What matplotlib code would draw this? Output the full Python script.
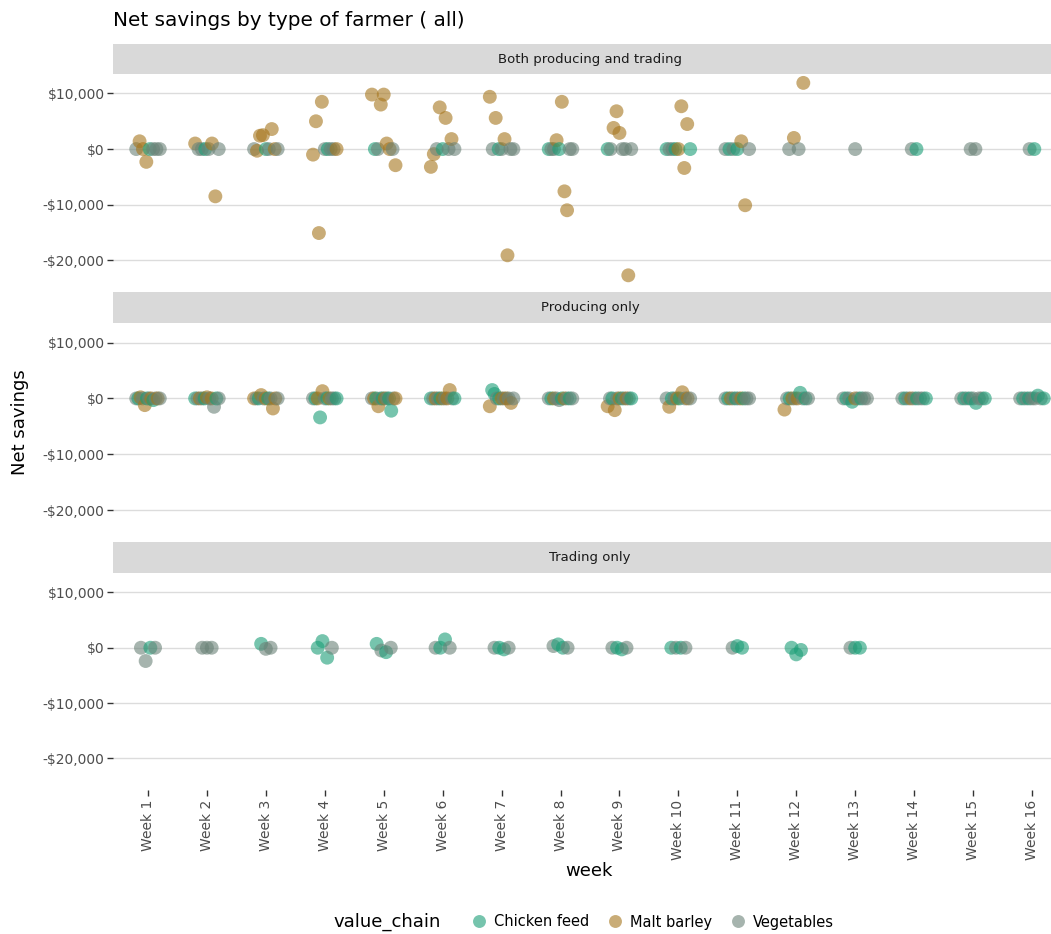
import matplotlib
matplotlib.use("Agg")
import matplotlib.pyplot as plt
from matplotlib.lines import Line2D
import numpy as np

# value chains: C = Chicken feed, M = Malt barley, V = Vegetables
chain_names = {"C": "Chicken feed", "M": "Malt barley", "V": "Vegetables"}
chain_colors = {"C": "#1b9e77", "M": "#a6761d", "V": "#6b8378"}

week_labels = ["Week %d" % i for i in range(1, 17)]
y_ticks = [10000, 0, -10000, -20000]

# Both producing and trading
both_week = ([1] * 8 + [2] * 8 + [3] * 9 + [4] * 9 + [5] * 9 + [6] * 9 + [7] * 9
             + [8] * 10 + [9] * 9 + [10] * 9 + [11] * 7 + [12] * 4 + [13] + [14] * 2
             + [15] * 2 + [16] * 2)
both_chain = ("VMMMCVVV" + "MVVCVMMV" + "VMMMCVMMV" + "MMMMVCVVM" + "MCVMMMMVM"
              + "MMVMCMVMV" + "MVMCVMMVV" + "CVVMCMMMVV" + "CVMMMVVMV" + "CVVCMMMMC"
              + "VCVCMMV" + "VMVM" + "V" + "VC" + "VV" + "VC")
both_value = [0, 1400, 0, -2300, 0, 0, 0, 0,
              1000, 0, 0, 0, 0, 1000, -8500, 0,
              0, -300, 2400, 2500, 0, 0, 3600, 0, 0,
              -1000, 5000, -15100, 8500, 0, 0, 0, 0, 0,
              9800, 0, 0, 8000, 9800, 1000, 0, 0, -2900,
              -3200, -900, 0, 7500, 0, 5600, 0, 1800, 0,
              9400, 0, 5600, 0, 0, 1800, -19100, 0, 0,
              0, 0, 0, 1600, 0, 8500, -7600, -11000, 0, 0,
              0, 0, 3800, 6800, 2900, 0, 0, -22700, 0,
              0, 0, 0, 0, 0, 7700, -3400, 4500, 0,
              0, 0, 0, 0, 1400, -10100, 0,
              0, 2000, 0, 11900,
              0,
              0, 0,
              0, 0,
              0, 0]

# Producing only
prod_week = ([1] * 12 + [2] * 11 + [3] * 11 + [4] * 11 + [5] * 12 + [6] * 11 + [7] * 11
             + [8] * 10 + [9] * 11 + [10] * 10 + [11] * 10 + [12] * 10 + [13] * 9
             + [14] * 9 + [15] * 9 + [16] * 9)
prod_chain = ("VCMVMCVMCVMV" + "CVMVCMVMVCV" + "MVCMVMCVMMV" + "VCMCMVCMVVC"
              + "VMCMVCMVCCVM" + "CVMVCMVMMVC" + "MCCVCMVMVMV" + "VCMVVCMVCV"
              + "MVCMVMCVMVC" + "VMCVMCMVMV" + "VCMVCVMCVV" + "MVCMVMCVCV"
              + "VCVCMVCVV" + "VCVMVCVVC" + "VCVCVCVVC" + "VCVCVVCVC")
prod_value = [0, 0, 200, 0, -1200, 0, 0, 0, -300, 0, 0, 0,
              0, 0, 0, 0, 0, 200, 0, 0, -1500, 0, 0,
              0, 0, 0, 600, 0, 0, 0, 0, -1800, 0, 0,
              0, 0, 0, -3400, 1300, 0, 0, 0, 0, 0, 0,
              0, 0, 0, -1400, 0, 0, 0, 0, 0, -2200, 0, 0,
              0, 0, 0, 0, 0, 0, 0, 0, 1500, 0, 0,
              -1400, 1500, 800, 0, 0, 0, 0, 0, 0, -800, 0,
              0, 0, 0, 0, -300, 0, 0, 0, 0, 0,
              -1400, 0, 0, -2100, 0, 0, 0, 0, 0, 0, 0,
              0, -1500, 0, 0, 0, 0, 1100, 0, 0, 0,
              0, 0, 0, 0, 0, 0, 0, 0, 0, 0,
              -2000, 0, 0, 0, 0, 0, 1000, 0, 0, 0,
              0, 0, 0, -600, 0, 0, 0, 0, 0,
              0, 0, 0, 0, 0, 0, 0, 0, 0,
              0, 0, 0, 0, 0, -800, 0, 0, 0,
              0, 0, 0, 0, 0, 0, 500, 0, 0]

# Trading only
trade_week = ([1] * 4 + [2] * 3 + [3] * 3 + [4] * 4 + [5] * 4 + [6] * 4 + [7] * 4
              + [8] * 4 + [9] * 4 + [10] * 4 + [11] * 3 + [12] * 3 + [13] * 3)
trade_chain = ("VVCV" + "VVV" + "CVV" + "CCCV" + "CVCV" + "VCCV" + "VCCV"
               + "VCCV" + "VCCV" + "CVCV" + "VCC" + "CCC" + "VCC")
trade_value = [0, -2400, 0, 0,
               0, 0, 0,
               700, -200, 0,
               0, 1200, -1800, 0,
               700, -500, -800, 0,
               0, 0, 1500, 0,
               0, 0, -300, 0,
               300, 600, 0, 0,
               0, 0, -300, 0,
               0, 0, 0, 0,
               0, 300, 0,
               0, -1200, -400,
               0, 0, 0]

panels = [("Both producing and trading", both_week, both_chain, both_value),
          ("Producing only", prod_week, prod_chain, prod_value),
          ("Trading only", trade_week, trade_chain, trade_value)]

W, H = 1051, 934
fig = plt.figure(figsize=(W / 100, H / 100), dpi=100)
plt.rcParams["font.family"] = ["DejaVu Sans"]


def box(top, bottom, left=113, right=W):
    return [left / W, 1 - bottom / H, (right - left) / W, (bottom - top) / H]


def spread(weeks):
    # spread the points of each week side by side, in listed order
    weeks = np.asarray(weeks, dtype=float)
    x = weeks.copy()
    for w in np.unique(weeks):
        idx = np.where(weeks == w)[0]
        n = len(idx)
        if n > 1:
            half = min(0.4, 0.08 * (n - 1)) / 2
            x[idx] = w + np.linspace(-half, half, n)
    return x


panel_px = [(74, 292), (323, 542), (573, 790)]
strip_px = [(44, 74), (292, 323), (542, 573)]

for i, (name, weeks, chains, values) in enumerate(panels):
    ax = fig.add_axes(box(*panel_px[i]))
    colors = [chain_colors[c] for c in chains]
    ax.scatter(spread(weeks), values, s=100, c=colors, alpha=0.6, linewidths=0, zorder=3)
    ax.set_xlim(0.406, 16.323)
    ax.set_ylim(-25700, 13500)
    ax.set_yticks(y_ticks)
    ax.set_yticklabels(["$10,000", "$0", "-$10,000", "-$20,000"])
    ax.grid(axis="y", color="#dcdcdc", linewidth=1.0)
    ax.set_axisbelow(True)
    for s in ax.spines.values():
        s.set_visible(False)
    ax.tick_params(axis="y", length=4, width=1, color="#333333", labelcolor="#4d4d4d",
                   labelsize=10, pad=2)
    ax.set_xticks(range(1, 17))
    if i == 2:
        ax.set_xticklabels(week_labels, rotation=90, va="top", ha="center")
        ax.tick_params(axis="x", length=4, width=1, color="#333333", labelcolor="#4d4d4d",
                       labelsize=10, pad=3)
    else:
        ax.tick_params(axis="x", length=0, labelbottom=False)

    sax = fig.add_axes(box(*strip_px[i]))
    sax.set_facecolor("#d9d9d9")
    sax.set_xticks([])
    sax.set_yticks([])
    for s in sax.spines.values():
        s.set_visible(False)
    sax.text(0.5 + 8 / (W - 113), 0.5, name, ha="center", va="center", fontsize=9.5,
             color="#1a1a1a", transform=sax.transAxes)

fig.text(113 / W, 1 - 20 / H, "Net savings by type of farmer ( all)", fontsize=14.4,
         ha="left", va="center", color="black")
fig.text(20 / W, 1 - 422 / H, "Net savings", rotation=90, fontsize=13,
         ha="center", va="center")
fig.text(589 / W, 1 - 871 / H, "week", fontsize=13, ha="center", va="center")

# legend along the bottom
fig.text(387 / W, 1 - 922 / H, "value_chain", fontsize=13, ha="center", va="center")
handles = [Line2D([], [], linestyle="none", marker="o", markersize=9.3,
                  markerfacecolor=chain_colors[k], markeredgewidth=0, alpha=0.6)
           for k in "CMV"]
fig.legend(handles, [chain_names[k] for k in "CMV"], ncol=3, loc="center",
           bbox_to_anchor=(652 / W, 1 - 922 / H), frameon=False, fontsize=10.5,
           handletextpad=0.4, columnspacing=1.2, handlelength=1.2)

fig.savefig("out.png", dpi=100)
